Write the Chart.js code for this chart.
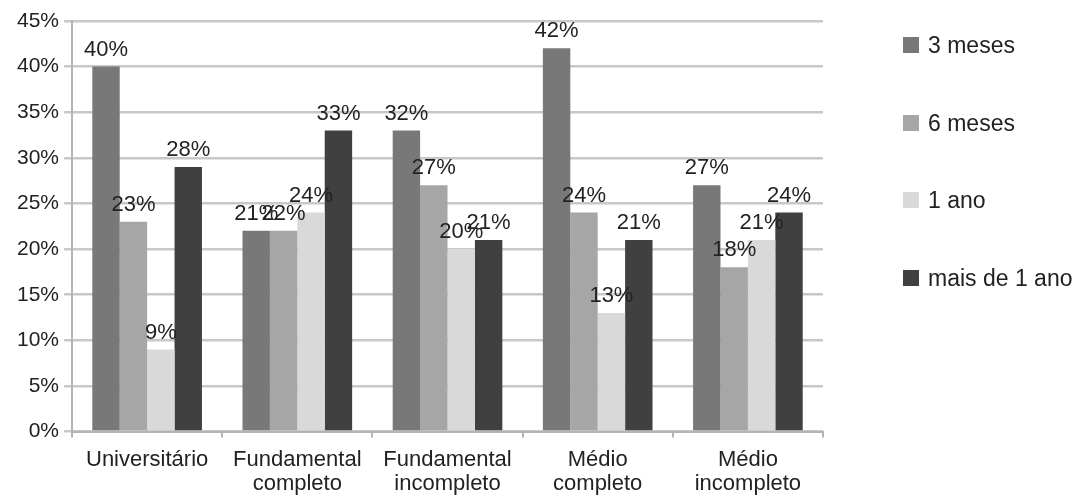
<!DOCTYPE html>
<html>
<head>
<meta charset="utf-8">
<script src="https://cdn.jsdelivr.net/npm/chart.js@4/dist/chart.umd.min.js"></script>
<style>
  html, body { margin: 0; padding: 0; background: #fff; }
  #wrap { position: relative; width: 1080px; height: 499px; }
  #legend { position: absolute; left: 903px; top: 32px; font-family: "Liberation Sans", Arial, sans-serif; font-size: 23px; color: #222; }
  #legend .item { height: 77.7px; display: flex; align-items: flex-start; }
  #legend .box { width: 16px; height: 16px; margin: 5px 9px 0 0; }
</style>
</head>
<body>
<div id="wrap">
  <canvas id="chart" width="1080" height="499"></canvas>
  <div id="legend"></div>
</div>
<script>
// categorias (eixo x)
const categories = [
  'Universitário',
  ['Fundamental', 'completo'],
  ['Fundamental', 'incompleto'],
  ['Médio', 'completo'],
  ['Médio', 'incompleto']
];
const seriesNames = ['3 meses', '6 meses', '1 ano', 'mais de 1 ano'];

// alturas das barras (%)
const threeMonths = [40, 22, 33, 42, 27];
const sixMonths = [23, 22, 27, 24, 18];
const oneYear = [9, 24, 20, 13, 21];
const moreThanYear = [29, 33, 21, 21, 24];

// rótulos impressos acima das barras
const threeMonthsLabels = [40, 21, 32, 42, 27];
const sixMonthsLabels = [23, 22, 27, 24, 18];
const oneYearLabels = [9, 24, 20, 13, 21];
const moreThanYearLabels = [28, 33, 21, 21, 24];

const yTicks = [0, 5, 10, 15, 20, 25, 30, 35, 40, 45];

const FONT = '"Liberation Sans", Arial, sans-serif';
const colors = ['#787878', '#a6a6a6', '#d9d9d9', '#404040'];
const allValues = [threeMonths, sixMonths, oneYear, moreThanYear];
const allLabels = [threeMonthsLabels, sixMonthsLabels, oneYearLabels, moreThanYearLabels];

// draws the % text over each bar
const barLabels = {
  id: 'barLabels',
  afterDatasetsDraw(chart) {
    const ctx = chart.ctx;
    ctx.save();
    ctx.font = '22px ' + FONT;
    ctx.fillStyle = '#222';
    ctx.textAlign = 'center';
    ctx.textBaseline = 'bottom';
    chart.data.datasets.forEach((ds, i) => {
      chart.getDatasetMeta(i).data.forEach((bar, j) => {
        ctx.fillText(ds.labelsText[j] + '%', bar.x, bar.y - 6);
      });
    });
    ctx.restore();
  }
};

const chart = new Chart(document.getElementById('chart'), {
  type: 'bar',
  data: {
    labels: categories,
    datasets: seriesNames.map((name, i) => ({
      label: name,
      data: allValues[i],
      labelsText: allLabels[i],
      backgroundColor: colors[i],
      borderWidth: 0,
      categoryPercentage: 0.73,
      barPercentage: 1.0
    }))
  },
  options: {
    responsive: false,
    animation: false,
    layout: { padding: { left: 12, right: 257, top: 21, bottom: -7 } },
    plugins: {
      legend: { display: false },
      tooltip: { enabled: false }
    },
    scales: {
      x: {
        grid: {
          offset: true,
          drawOnChartArea: false,
          drawTicks: true,
          tickLength: 6,
          color: '#b4b4b4',
          lineWidth: 2
        },
        border: { color: '#b4b4b4', width: 2 },
        ticks: {
          font: { family: FONT, size: 22, lineHeight: 1.1 },
          color: '#222',
          padding: 10,
          maxRotation: 0,
          autoSkip: false
        }
      },
      y: {
        min: 0,
        max: 45,
        afterBuildTicks(scale) {
          scale.ticks = yTicks.map(v => ({ value: v }));
        },
        grid: {
          color: '#c8c8c8',
          lineWidth: 2.5,
          tickLength: 8
        },
        border: { color: '#b4b4b4', width: 2 },
        ticks: {
          font: { family: FONT, size: 21 },
          color: '#222',
          padding: 5,
          callback: v => v + '%'
        }
      }
    }
  },
  plugins: [barLabels]
});

// legenda à direita
const legendEl = document.getElementById('legend');
chart.options.plugins.legend.labels.generateLabels(chart).forEach(item => {
  const row = document.createElement('div');
  row.className = 'item';
  const box = document.createElement('span');
  box.className = 'box';
  box.style.background = item.fillStyle;
  const txt = document.createElement('span');
  txt.textContent = item.text;
  row.appendChild(box);
  row.appendChild(txt);
  legendEl.appendChild(row);
});
</script>
</body>
</html>
